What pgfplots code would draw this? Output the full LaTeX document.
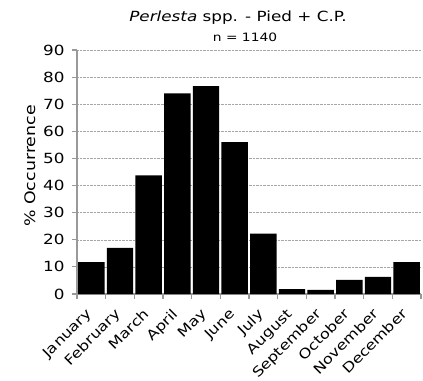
\documentclass[border=0pt]{standalone}
\usepackage{pgfplots}
\pgfplotsset{compat=1.18}
\usepackage{fontspec}
\setmainfont[FakeStretch=1.2]{DejaVu Sans}
\begin{document}
\begin{tikzpicture}[x=1bp,y=1bp]
\useasboundingbox (0,0) rectangle (423,381);
\begin{axis}[
  at={(77bp,87bp)}, anchor=south west,
  scale only axis, width=344bp, height=244bp,
  ybar, bar width=26.4bp,
  xmin=0.5, xmax=12.5, ymin=0, ymax=90,
  ytick={0,10,...,90},
  xtick={1,...,12},
  xticklabels={January,February,March,April,May,June,July,August,September,October,November,December},
  minor xtick={0.5,1.5,...,12.5},
  major x tick style={draw=none},
  minor x tick style={draw=gray!80, line width=1.2bp},
  minor tick length=5bp,
  major tick length=5bp,
  y tick style={draw=gray!80, line width=1.2bp},
  tick align=outside,
  axis lines*=left,
  axis line style={draw=gray!80, line width=1.5bp},
  ymajorgrids, grid style={densely dotted, gray!70, line width=0.5bp},
  /pgf/number format/assume math mode=true,
  tick label style={font=\fontsize{14bp}{16bp}\selectfont},
  yticklabel style={xshift=-4bp},
  xticklabel style={font=\fontsize{13.6bp}{16bp}\selectfont, xshift=-6bp, yshift=-7bp, rotate=45, anchor=north east, inner sep=1bp},
  clip=false,
]
\addplot[fill=black, draw=none] coordinates {
(1,11.8) (2,17.0) (3,43.8) (4,74.0) (5,76.7) (6,56.0) (7,22.3) (8,1.8) (9,1.5) (10,5.2) (11,6.3) (12,11.8)};
\end{axis}
\node at (238bp,363bp) {\fontsize{14bp}{16bp}\selectfont\textit{Perlesta} spp. - Pied + C.P.};
\node at (245bp,344bp) {\fontsize{11.5bp}{13bp}\selectfont n = 1140};
\node[rotate=90] at (30bp,215bp) {\fontsize{14.5bp}{16bp}\selectfont \% Occurrence};
\end{tikzpicture}
\end{document}
